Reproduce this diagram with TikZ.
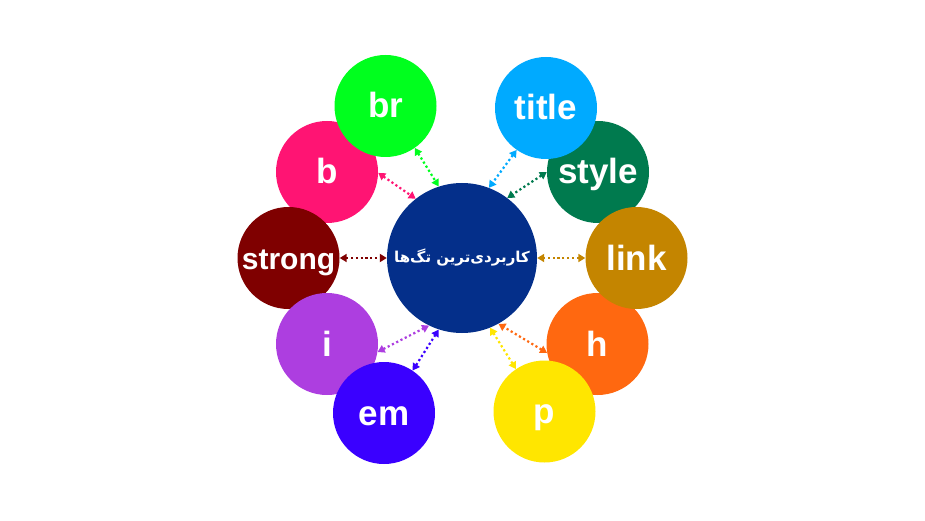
\documentclass[tikz,border=0pt]{standalone}
\usepackage{fontspec}
\usetikzlibrary{arrows.meta}
\newfontfamily\labelfont{Liberation Sans}
\newfontfamily\arabicfont[Script=Arabic]{DejaVu Sans}
\TeXXeTstate=1
\definecolor{cbr}{HTML}{00FF1E}
\definecolor{ctitle}{HTML}{00AAFF}
\definecolor{cb}{HTML}{FF1473}
\definecolor{cstyle}{HTML}{007A4E}
\definecolor{cstrong}{HTML}{7F0000}
\definecolor{clink}{HTML}{C48500}
\definecolor{ci}{HTML}{AD3EE0}
\definecolor{ch}{HTML}{FF6810}
\definecolor{cem}{HTML}{3A00FF}
\definecolor{cp}{HTML}{FFE600}
\definecolor{ccenter}{HTML}{042F8A}
\tikzset{
  tagball/.style={circle, fill=#1, inner sep=0pt, minimum size=102pt, text=white,
    font=\labelfont\bfseries\fontsize{35}{40}\selectfont, text height=24pt, text depth=0pt},
  smalltag/.style={font=\labelfont\bfseries\fontsize{30}{36}\selectfont, text height=22pt},
  hub/.style={circle, fill=ccenter, inner sep=0pt, minimum size=150pt, text=white,
    font=\arabicfont\bfseries\fontsize{15}{18}\selectfont},
  link2/.style={draw=#1, line width=2.2pt, dash pattern=on 2.2pt off 2.6pt,
    {Triangle[length=7pt,width=8pt,fill=#1]}-{Triangle[length=7pt,width=8pt,fill=#1]}},
}
\begin{document}
\begin{tikzpicture}[x=1pt,y=-1pt]
\useasboundingbox (0,0) rectangle (925,521);
\node[hub] (c) at (462,258) {\beginR کاربردی^^^^200cترین تگ^^^^200cها\endR};
% outer circles, in stacking order
\node[tagball=cb] (b) at (327,172) {b};
\node[tagball=cbr] (br) at (385.5,106) {br};
\node[tagball=cstyle] (style) at (598,172) {style};
\node[tagball=ctitle] (title) at (546,108) {title};
\node[tagball=cstrong, smalltag] (strong) at (288.5,258) {strong};
\node[tagball=ch] (h) at (597.5,344) {h};
\node[tagball=clink] (link) at (636.5,258) {link};
\node[tagball=ci] (i) at (327,344) {i};
\node[tagball=cem] (em) at (384,413) {em};
\node[tagball=cp] (p) at (544.5,411.5) {p};
% connectors
\draw[link2=cbr] (br.-55) -- (c.108);
\draw[link2=cb] (b.-1) -- (c.128);
\draw[link2=cstrong] (strong.0) -- (c.180);
\draw[link2=ctitle] (title.-125) -- (c.69);
\draw[link2=cstyle] (style.180) -- (c.53);
\draw[link2=clink] (link.180) -- (c.0);
\draw[link2=ci] (i.-9) -- (c.244);
\draw[link2=cem] (em.56) -- (c.252);
\draw[link2=cp] (p.124) -- (c.292);
\draw[link2=ch] (h.190) -- (c.299);
\end{tikzpicture}
\end{document}
